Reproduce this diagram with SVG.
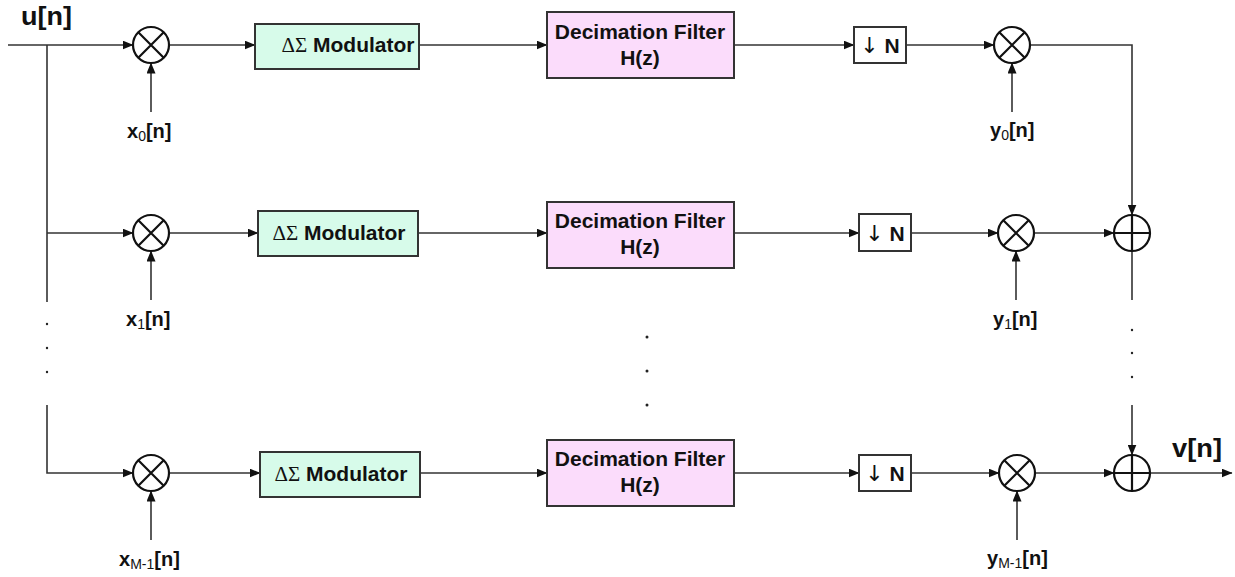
<svg xmlns="http://www.w3.org/2000/svg" width="1235" height="577" viewBox="0 0 1235 577">
<style>
.ln{stroke:#333;stroke-width:1.6;fill:none}
.ar{stroke:#333;stroke-width:1.6;fill:none;marker-end:url(#ah)}
.op{stroke:#111;stroke-width:2.2;fill:#fff}
.opx{stroke:#111;stroke-width:2.2}
.mod{fill:#d7fbea;stroke:#333;stroke-width:2}
.flt{fill:#fbdcfb;stroke:#333;stroke-width:2}
.dn{fill:#fff;stroke:#333;stroke-width:2}
.t{font-family:"Liberation Sans",Arial,sans-serif;font-weight:bold;fill:#111}
.big{font-size:25px}
.lab{font-size:20px}
.box{font-size:21px;text-anchor:middle}
.sym{font-family:"Liberation Serif","Times New Roman",serif;font-weight:normal}
.arw{font-family:"DejaVu Sans",sans-serif;font-weight:normal;font-size:22px;fill:#111}
.sub{font-size:14px;font-weight:normal}
.dot{fill:#222}
</style>
<defs>
<marker id="ah" markerWidth="11" markerHeight="9" refX="10.5" refY="4.5" orient="auto" markerUnits="userSpaceOnUse">
<path d="M0,0 L11,4.5 L0,9 z" fill="#111"/>
</marker>
</defs>
<g id="connectors">
<line class="ar" x1="8" y1="45" x2="133" y2="45"/>
<line class="ln" x1="47" y1="45" x2="47" y2="302"/>
<line class="ar" x1="169" y1="45" x2="255" y2="45"/>
<line class="ar" x1="419" y1="45" x2="547" y2="45"/>
<line class="ar" x1="734" y1="45" x2="854" y2="45"/>
<line class="ar" x1="906" y1="45" x2="994" y2="45"/>
<line class="ar" x1="151" y1="112" x2="151" y2="63"/>
<line class="ar" x1="1012" y1="112" x2="1012" y2="63"/>
<polyline class="ar" points="1030,45 1132,45 1132,215"/>
<line class="ar" x1="47" y1="233" x2="133" y2="233"/>
<line class="ar" x1="169" y1="233" x2="258" y2="233"/>
<line class="ar" x1="418" y1="233" x2="547" y2="233"/>
<line class="ar" x1="734" y1="233" x2="859" y2="233"/>
<line class="ar" x1="911" y1="233" x2="998" y2="233"/>
<line class="ar" x1="151" y1="300" x2="151" y2="251"/>
<line class="ar" x1="1016" y1="300" x2="1016" y2="251"/>
<line class="ar" x1="1034" y1="233" x2="1114" y2="233"/>
<line class="ln" x1="1132" y1="251" x2="1132" y2="300"/>
<polyline class="ar" points="47,405 47,473 133,473"/>
<line class="ar" x1="169" y1="473" x2="260" y2="473"/>
<line class="ar" x1="420" y1="473" x2="547" y2="473"/>
<line class="ar" x1="734" y1="473" x2="859" y2="473"/>
<line class="ar" x1="911" y1="473" x2="999" y2="473"/>
<line class="ar" x1="151" y1="540" x2="151" y2="491"/>
<line class="ar" x1="1017" y1="540" x2="1017" y2="491"/>
<line class="ar" x1="1035" y1="473" x2="1114" y2="473"/>
<line class="ar" x1="1132" y1="405" x2="1132" y2="455"/>
<line class="ar" x1="1150" y1="473" x2="1232" y2="473"/>
</g>
<g id="dots">
<circle class="dot" cx="47" cy="324" r="1.2"/>
<circle class="dot" cx="47" cy="348" r="1.2"/>
<circle class="dot" cx="47" cy="372" r="1.2"/>
<circle class="dot" cx="647" cy="337" r="1.5"/>
<circle class="dot" cx="647" cy="371" r="1.5"/>
<circle class="dot" cx="647" cy="405" r="1.5"/>
<circle class="dot" cx="1132" cy="330" r="1.2"/>
<circle class="dot" cx="1132" cy="353" r="1.2"/>
<circle class="dot" cx="1132" cy="377" r="1.2"/>
</g>
<g id="labels-io">
<text class="t big" x="21" y="25" textLength="51" lengthAdjust="spacingAndGlyphs">u[n]</text>
<text class="t big" x="1172" y="457" textLength="50" lengthAdjust="spacingAndGlyphs">v[n]</text>
</g>
<g id="mul-x0">
<circle class="op" cx="151" cy="45" r="18"/>
<path class="opx" d="M138.3,32.3 L163.7,57.7 M163.7,32.3 L138.3,57.7"/>
<text class="t lab" x="127" y="138">x<tspan class="sub" dy="3">0</tspan><tspan dy="-3">[n]</tspan></text>
</g>
<g id="mod-0">
<rect class="mod" x="255" y="24" width="164" height="45"/>
<text class="t box" x="348" y="52"><tspan class="sym">ΔΣ</tspan> Modulator</text>
</g>
<g id="filter-0">
<rect class="flt" x="547" y="12" width="187" height="66"/>
<text class="t box" x="640" y="39">Decimation Filter</text>
<text class="t box" x="640" y="65">H(z)</text>
</g>
<g id="down-0">
<rect class="dn" x="854" y="27" width="52" height="36"/>
<text class="t box" x="880" y="53"><tspan class="arw">↓</tspan> N</text>
</g>
<g id="mul-y0">
<circle class="op" cx="1012" cy="45" r="18"/>
<path class="opx" d="M999.3,32.3 L1024.7,57.7 M1024.7,32.3 L999.3,57.7"/>
<text class="t lab" x="990" y="137">y<tspan class="sub" dy="3">0</tspan><tspan dy="-3">[n]</tspan></text>
</g>
<g id="mul-x1">
<circle class="op" cx="151" cy="233" r="18"/>
<path class="opx" d="M138.3,220.3 L163.7,245.7 M163.7,220.3 L138.3,245.7"/>
<text class="t lab" x="126" y="326">x<tspan class="sub" dy="3">1</tspan><tspan dy="-3">[n]</tspan></text>
</g>
<g id="mod-1">
<rect class="mod" x="258" y="211" width="160" height="45"/>
<text class="t box" x="339" y="240"><tspan class="sym">ΔΣ</tspan> Modulator</text>
</g>
<g id="filter-1">
<rect class="flt" x="547" y="202" width="187" height="66"/>
<text class="t box" x="640" y="228">Decimation Filter</text>
<text class="t box" x="640" y="254">H(z)</text>
</g>
<g id="down-1">
<rect class="dn" x="859" y="214" width="52" height="37"/>
<text class="t box" x="885" y="241"><tspan class="arw">↓</tspan> N</text>
</g>
<g id="mul-y1">
<circle class="op" cx="1016" cy="233" r="18"/>
<path class="opx" d="M1003.3,220.3 L1028.7,245.7 M1028.7,220.3 L1003.3,245.7"/>
<text class="t lab" x="993" y="326">y<tspan class="sub" dy="3">1</tspan><tspan dy="-3">[n]</tspan></text>
</g>
<g id="add-1">
<circle class="op" cx="1132" cy="233" r="18"/>
<path class="opx" d="M1114,233 L1150,233 M1132,215 L1132,251"/>
</g>
<g id="mul-xM">
<circle class="op" cx="151" cy="473" r="18"/>
<path class="opx" d="M138.3,460.3 L163.7,485.7 M163.7,460.3 L138.3,485.7"/>
<text class="t lab" x="119" y="566">x<tspan class="sub" dy="3">M-1</tspan><tspan dy="-3">[n]</tspan></text>
</g>
<g id="mod-M">
<rect class="mod" x="260" y="452" width="160" height="45"/>
<text class="t box" x="341" y="481"><tspan class="sym">ΔΣ</tspan> Modulator</text>
</g>
<g id="filter-M">
<rect class="flt" x="547" y="440" width="187" height="66"/>
<text class="t box" x="640" y="466">Decimation Filter</text>
<text class="t box" x="640" y="492">H(z)</text>
</g>
<g id="down-M">
<rect class="dn" x="859" y="455" width="52" height="36"/>
<text class="t box" x="885" y="481"><tspan class="arw">↓</tspan> N</text>
</g>
<g id="mul-yM">
<circle class="op" cx="1017" cy="473" r="18"/>
<path class="opx" d="M1004.3,460.3 L1029.7,485.7 M1029.7,460.3 L1004.3,485.7"/>
<text class="t lab" x="987" y="565">y<tspan class="sub" dy="3">M-1</tspan><tspan dy="-3">[n]</tspan></text>
</g>
<g id="add-M">
<circle class="op" cx="1132" cy="473" r="18"/>
<path class="opx" d="M1114,473 L1150,473 M1132,455 L1132,491"/>
</g>
</svg>
